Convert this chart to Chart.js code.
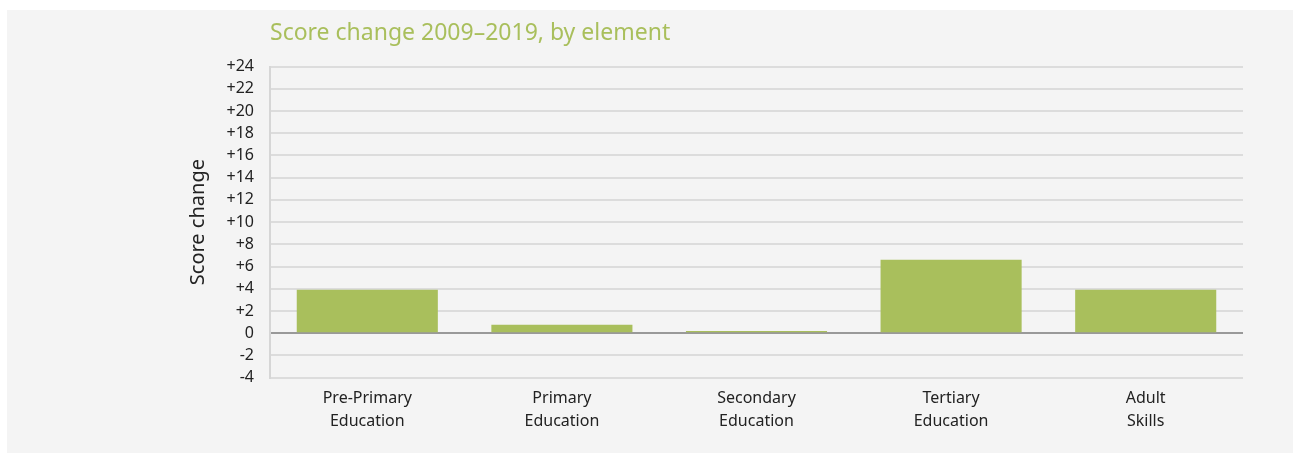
<!DOCTYPE html>
<html>
<head>
<meta charset="utf-8">
<script src="https://cdn.jsdelivr.net/npm/chart.js@4"></script>
<style>
  body { margin: 0; background: #fff; }
  #box { position: absolute; left: 7px; top: 10px; width: 1286px; height: 443px; background: #f4f4f4; }
</style>
</head>
<body>
<div id="box"><canvas id="chart" width="1286" height="443"></canvas></div>
<script>
// categories and values
const categories = [
  ['Pre-Primary', 'Education'],
  ['Primary', 'Education'],
  ['Secondary', 'Education'],
  ['Tertiary', 'Education'],
  ['Adult', 'Skills']
];
const scoreChange = [3.9, 0.75, 0.2, 6.6, 3.9];

const green = '#a9bf5c';
const fontFam = '"Noto Sans", "Open Sans", sans-serif';

new Chart(document.getElementById('chart'), {
  type: 'bar',
  data: {
    labels: categories,
    datasets: [{
      data: scoreChange,
      backgroundColor: green,
      borderWidth: 0,
      barPercentage: 0.725,
      categoryPercentage: 1
    }]
  },
  options: {
    responsive: false,
    animation: false,
    layout: { padding: { left: 179, right: 50, top: 0, bottom: 11 } },
    plugins: {
      legend: { display: false },
      tooltip: { enabled: false },
      title: {
        display: true,
        text: 'Score change 2009\u20132019, by element',
        color: green,
        align: 'start',
        fullSize: false,
        font: { family: fontFam, size: 23, weight: 'normal' },
        padding: { top: 10, bottom: 19 }
      }
    },
    scales: {
      x: {
        grid: { display: false, drawTicks: false },
        border: { display: false },
        ticks: {
          color: '#222',
          font: { family: fontFam, size: 16, lineHeight: 1.45 },
          padding: 9,
          maxRotation: 0,
          autoSkip: false
        }
      },
      y: {
        min: -4,
        max: 24,
        afterFit: function(scale) { scale.width = 84; },
        ticks: {
          stepSize: 2,
          autoSkip: false,
          color: '#222',
          font: { family: fontFam, size: 16 },
          padding: 16,
          callback: function(v) { return v > 0 ? '+' + v : '' + v; }
        },
        grid: {
          drawTicks: false,
          lineWidth: 2,
          color: function(ctx) { return ctx.tick && ctx.tick.value === 0 ? '#999' : '#dcdcdc'; }
        },
        border: { display: true, color: '#d6d6d6', width: 2 },
        title: {
          display: true,
          text: 'Score change',
          color: '#222',
          font: { family: fontFam, size: 20 },
          padding: 0
        }
      }
    }
  }
});
</script>
</body>
</html>
